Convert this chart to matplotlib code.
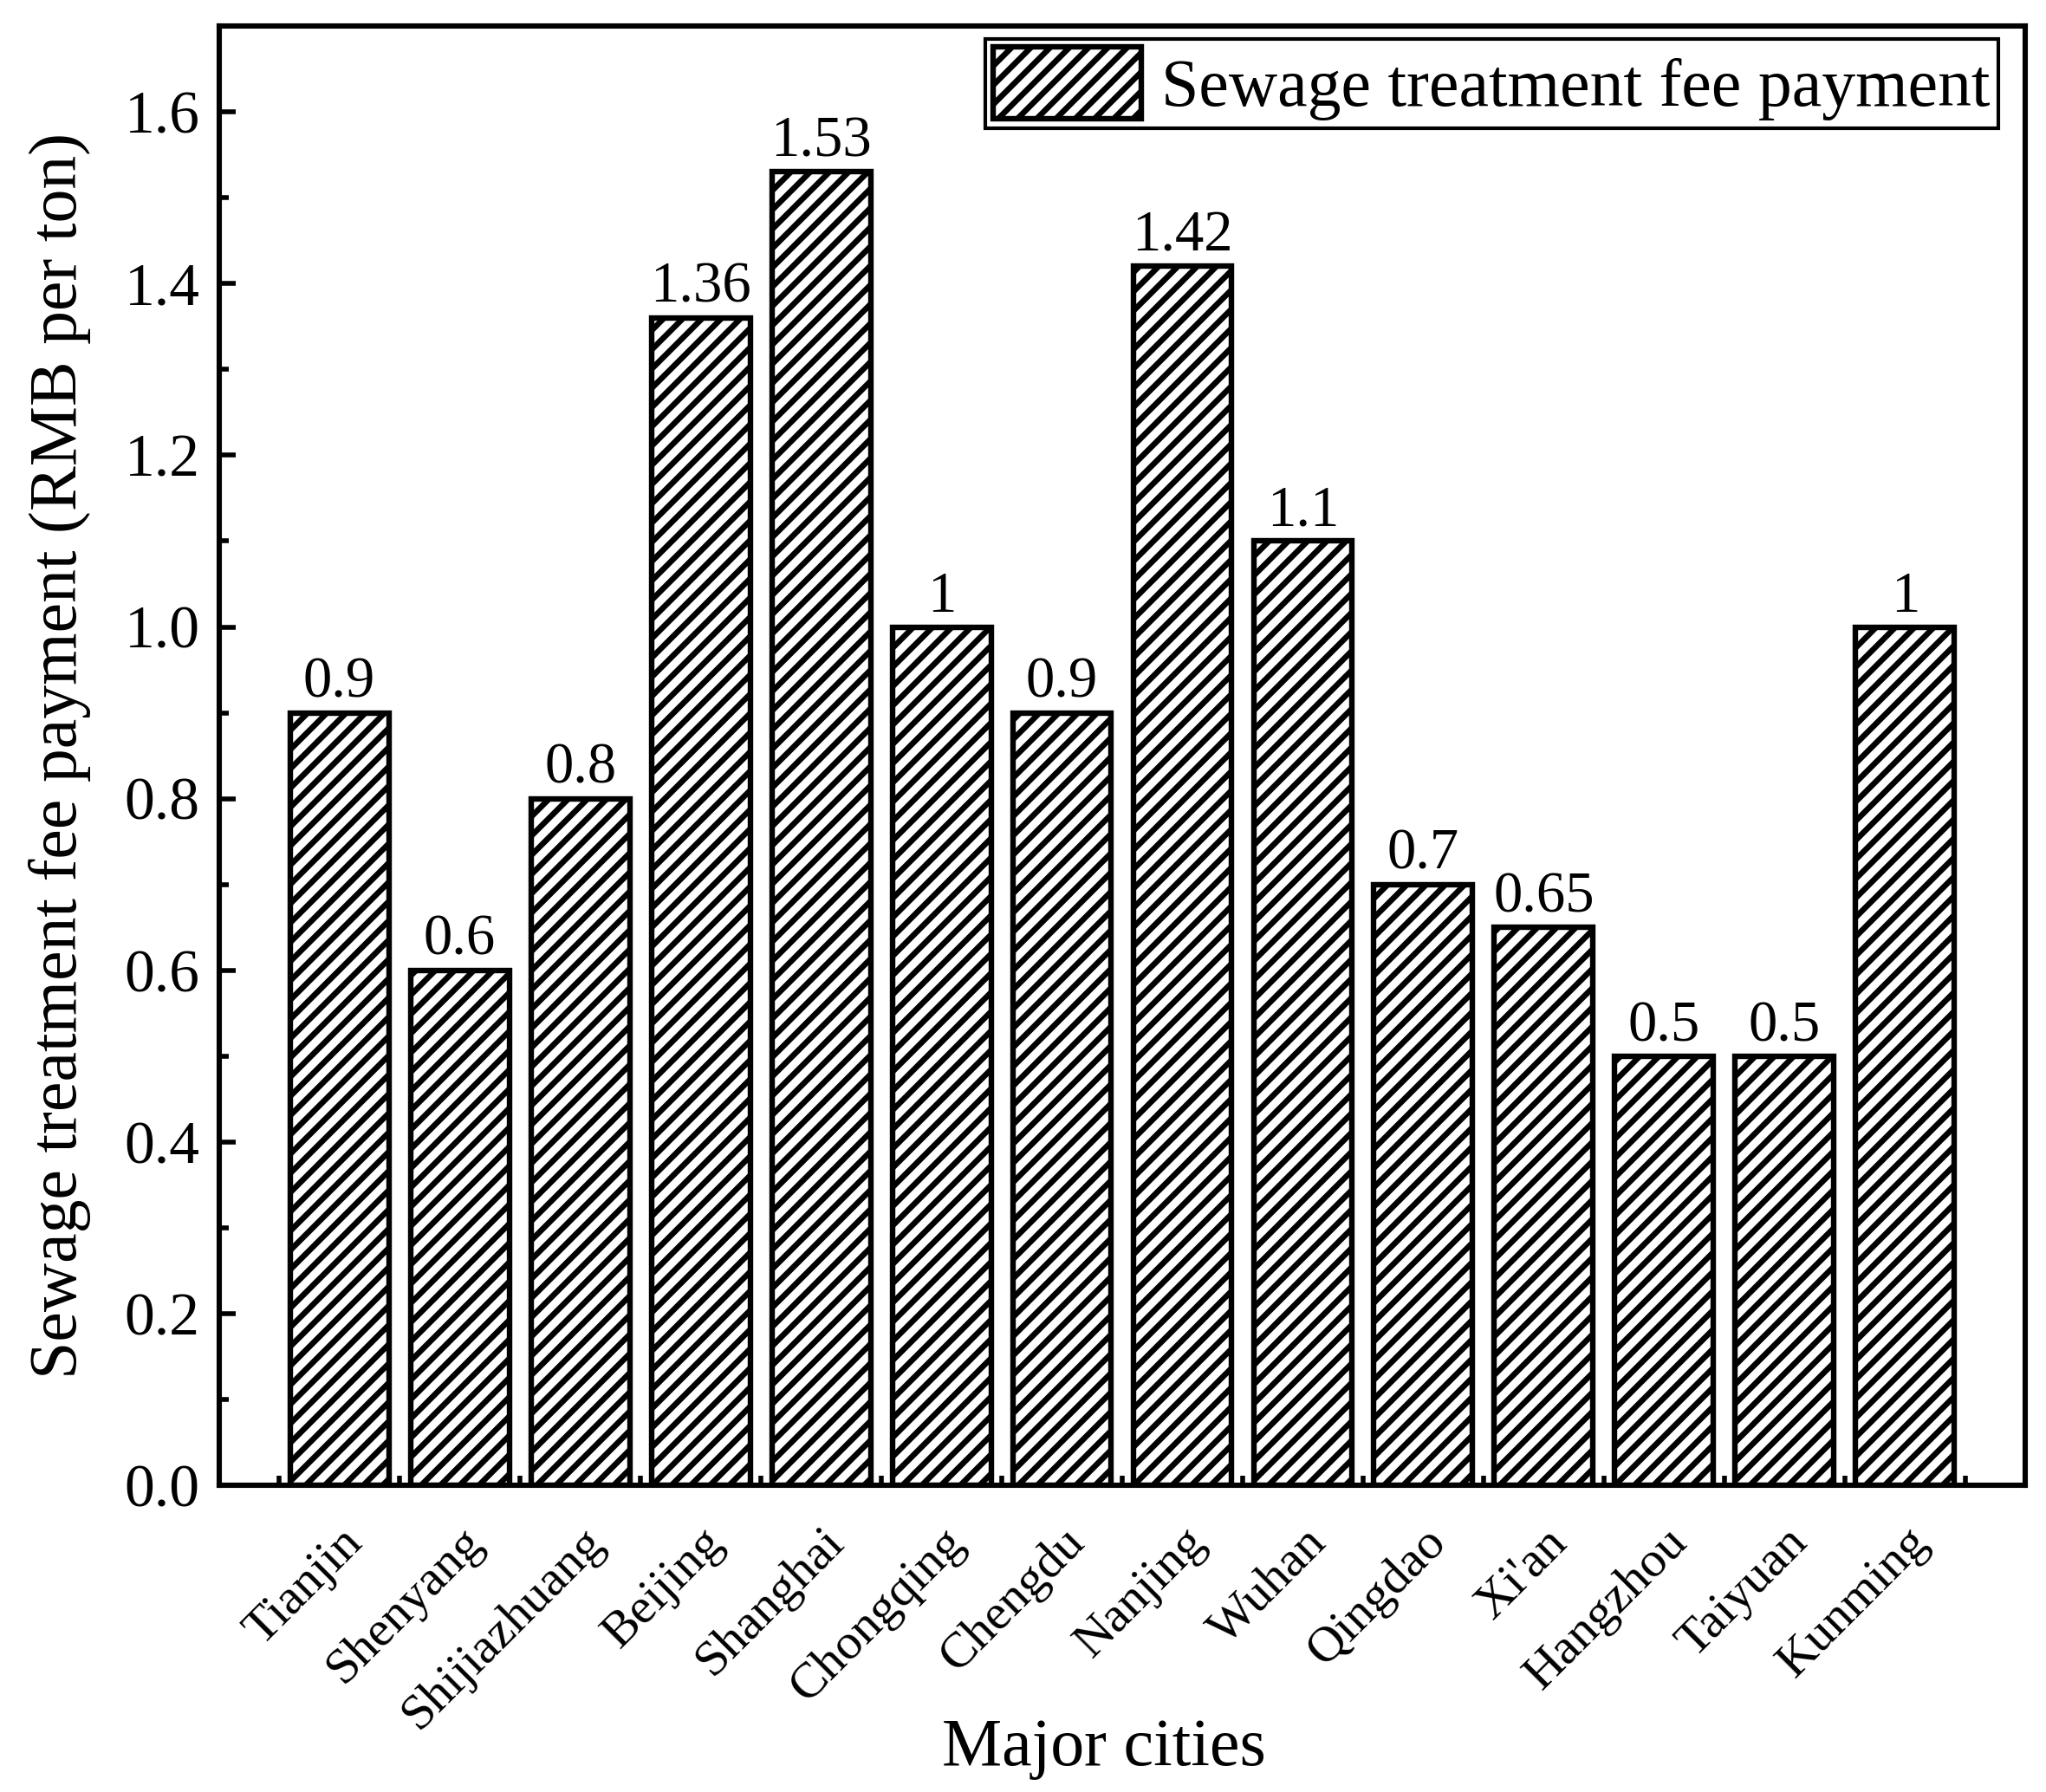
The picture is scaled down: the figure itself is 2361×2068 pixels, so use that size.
import numpy as np
import matplotlib
matplotlib.use('Agg')
import matplotlib.pyplot as plt
from matplotlib.ticker import MultipleLocator, FixedLocator
from matplotlib.transforms import ScaledTranslation

cities = ['Tianjin', 'Shenyang', 'Shijiazhuang', 'Beijing', 'Shanghai', 'Chongqing',
          'Chengdu', 'Nanjing', 'Wuhan', 'Qingdao', "Xi'an", 'Hangzhou', 'Taiyuan', 'Kunming']
fees = [0.9, 0.6, 0.8, 1.36, 1.53, 1.0, 0.9, 1.42, 1.1, 0.7, 0.65, 0.5, 0.5, 1.0]
fee_labels = ['0.9', '0.6', '0.8', '1.36', '1.53', '1', '0.9', '1.42', '1.1', '0.7', '0.65', '0.5', '0.5', '1']

plt.rcParams['font.family'] = ['Liberation Serif', 'DejaVu Serif']
plt.rcParams['hatch.linewidth'] = 2.4
plt.rcParams['hatch.color'] = 'black'

fig = plt.figure(figsize=(11.805, 10.34), dpi=200)
ax = fig.add_axes([0.107, 0.171, 0.883, 0.8145])

x = np.arange(len(cities))
bars = ax.bar(x, fees, width=0.82, color='white', edgecolor='black', linewidth=2.3,
              hatch='///', label='Sewage treatment fee payment', zorder=2)

for xi, v, s in zip(x, fees, fee_labels):
    ax.text(xi, v + 0.004, s, ha='center', va='bottom', fontsize=24)

ax.set_xlim(-1, 14)
ax.set_ylim(0, 1.7)

ax.yaxis.set_major_locator(MultipleLocator(0.2))
ax.yaxis.set_minor_locator(MultipleLocator(0.1))
ax.yaxis.set_major_formatter(plt.FuncFormatter(lambda v, p: '%.1f' % v))

ax.set_xticks(x)
ax.set_xticklabels(cities, rotation=45, ha='right', va='top', rotation_mode='anchor', fontsize=21)
ax.xaxis.set_minor_locator(FixedLocator(np.arange(-0.5, 14, 1.0)))
offset = ScaledTranslation(0.28, 0.0, fig.dpi_scale_trans)
for lab in ax.get_xticklabels():
    lab.set_transform(lab.get_transform() + offset)

ax.tick_params(axis='y', which='major', direction='in', length=7, width=2, labelsize=25, pad=8)
ax.tick_params(axis='y', which='minor', direction='in', length=4, width=2)
ax.tick_params(axis='x', which='major', length=0, pad=14)
ax.tick_params(axis='x', which='minor', direction='in', length=4, width=2)
ax.tick_params(top=False, right=False, which='both')

for sp in ax.spines.values():
    sp.set_linewidth(2.2)

ax.set_ylabel('Sewage treatment fee payment (RMB per ton)', fontsize=28, labelpad=14)
ax.set_xlabel('Major cities', fontsize=28)
ax.xaxis.set_label_coords(0.49, -0.159)

leg = ax.legend(loc='upper right', bbox_to_anchor=(0.985, 0.991), fontsize=28,
                fancybox=False, edgecolor='black', handlelength=2.2, handleheight=1.25,
                handletextpad=0.3, borderpad=0.12, borderaxespad=0, framealpha=1)
leg.get_frame().set_linewidth(1.5)

fig.savefig('out.png', dpi=200)
